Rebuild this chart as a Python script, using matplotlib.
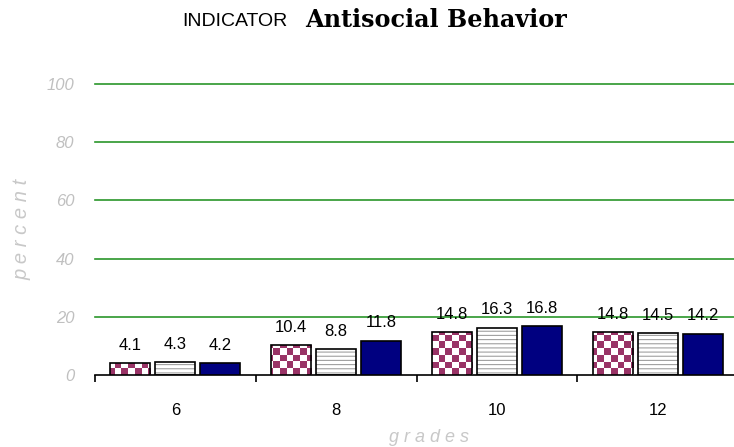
import numpy as np
import matplotlib.pyplot as plt
from matplotlib.patches import Rectangle
from matplotlib.colors import ListedColormap

# grade levels and the three series drawn per grade
grades = ['6', '8', '10', '12']
series_a = [4.1, 10.4, 14.8, 14.8]   # checkered
series_b = [4.3, 8.8, 16.3, 14.5]    # striped
series_c = [4.2, 11.8, 16.8, 14.2]   # solid navy
y_ticks = [0, 20, 40, 60, 80, 100]

W, H, DPI = 734, 447, 100
fig = plt.figure(figsize=(W / DPI, H / DPI), dpi=DPI)
fig.patch.set_facecolor('white')

x0, x1 = 95, 738
y0, y1 = 375, 84
ax = fig.add_axes([x0 / W, 1 - y0 / H, (x1 - x0) / W, (y0 - y1) / H])

for s in ['top', 'right', 'left']:
    ax.spines[s].set_visible(False)
ax.spines['bottom'].set_linewidth(1.2)

# green gridlines (0 is the black axis line)
for v in y_ticks[1:]:
    ax.axhline(v, color='#2a962a', lw=1.2, zorder=1, clip_on=False)

idx = np.arange(len(grades))
bw = 0.25
off = 0.28
lab = dict(fontsize=12, family='Liberation Sans', ha='center', va='baseline')

# checkered bars: maroon/white checker image clipped to each bar
sq_x = 6.6 / 160.7
sq_y = 6.6 / 2.91
nx = int(np.ceil(4 / sq_x)) + 1
ny = int(np.ceil(100 / sq_y)) + 1
checker = (np.add.outer(np.arange(ny), np.arange(nx)) % 2).astype(float)
cmap = ListedColormap(['#993366', 'white'])
for i, v in enumerate(series_a):
    rect = Rectangle((idx[i] - off - bw / 2, 0), bw, v, facecolor='white',
                     edgecolor='none', zorder=2)
    ax.add_patch(rect)
    im = ax.imshow(checker, cmap=cmap, extent=(-0.5, -0.5 + nx * sq_x, 0, ny * sq_y),
                   origin='lower', interpolation='nearest', aspect='auto', zorder=3)
    im.set_clip_path(rect)
    ax.add_patch(Rectangle((idx[i] - off - bw / 2, 0), bw, v, facecolor='none',
                           edgecolor='black', lw=1.2, zorder=4))

# striped bars
plt.rcParams['hatch.linewidth'] = 0.8
ax.bar(idx, series_b, bw, color='white', edgecolor='#a0a0a0', hatch='----',
       lw=0, zorder=2)
ax.bar(idx, series_b, bw, color='none', edgecolor='black', lw=1.2, zorder=4)

# solid bars
ax.bar(idx + off, series_c, bw, color='#000080', edgecolor='black', lw=1.2, zorder=4)

for i in idx:
    for dx, v in [(-off, series_a[i]), (0, series_b[i]), (off, series_c[i])]:
        ax.annotate(f'{v:.1f}', (i + dx, v), xytext=(0, 9.5),
                    textcoords='offset points', **lab)

ax.set_xlim(-0.5, len(grades) - 0.5)
ax.set_ylim(0, 100)

# boundaries carry tick marks, centres carry the grade labels
ax.set_xticks(np.arange(-0.5, len(grades), 1.0))
ax.set_xticklabels([])
ax.tick_params(axis='x', which='major', length=5, width=1.2, direction='out')
ax.set_xticks(idx, minor=True)
ax.set_xticklabels(grades, minor=True, fontsize=12, family='Liberation Sans')
ax.tick_params(axis='x', which='minor', length=0, pad=20)

ax.set_yticks(y_ticks)
ax.set_yticklabels([str(t) for t in y_ticks], fontsize=12, style='italic',
                   color='#c0c0c0', family='Liberation Sans')
ax.tick_params(axis='y', length=0, pad=15)

fig.text(22 / W, 1 - 229 / H, 'p e r c e n t', rotation=90, ha='center', va='center',
         fontsize=14.5, style='italic', color='#c8c8c8', family='Liberation Sans')
fig.text(429 / W, 1 - 437 / H, 'g r a d e s', ha='center', va='center',
         fontsize=13, style='italic', color='#c8c8c8', family='Liberation Sans')

fig.text(288 / W, 1 - 21 / H, 'INDICATOR', ha='right', va='center',
         fontsize=14, family='Liberation Sans')
fig.text(305 / W, 1 - 20 / H, 'Antisocial Behavior', ha='left', va='center',
         fontsize=17.2, weight='bold', family='DejaVu Serif')

fig.savefig('out.png', dpi=DPI)
